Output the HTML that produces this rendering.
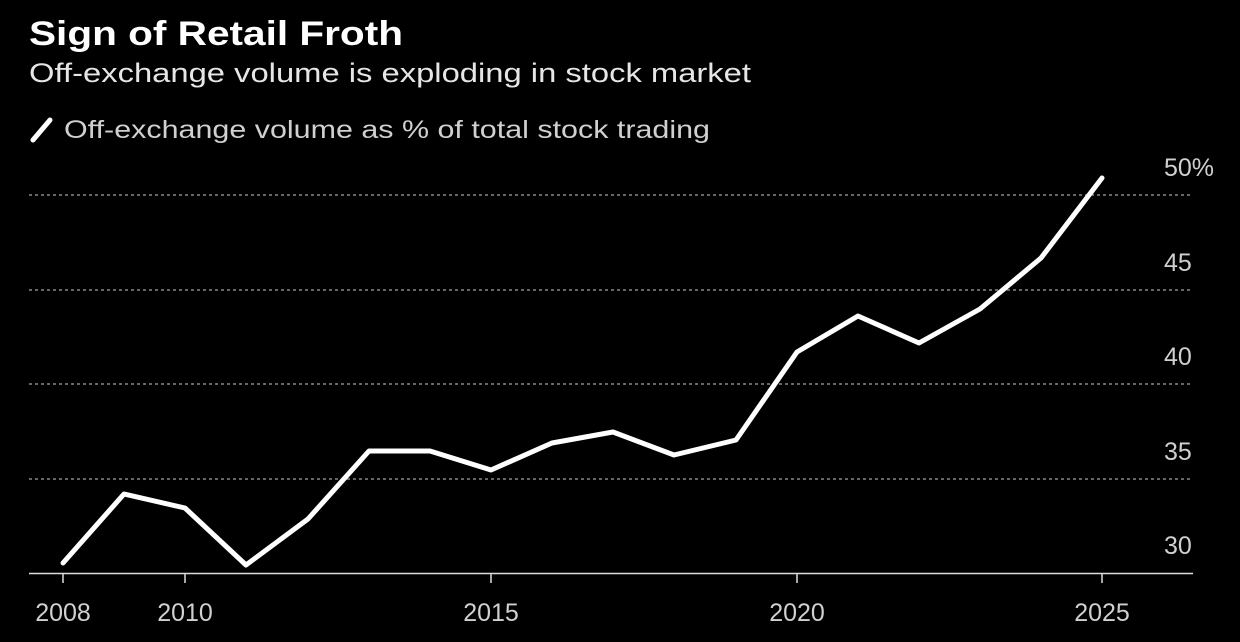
<!DOCTYPE html>
<html><head><meta charset="utf-8"><style>
html,body{margin:0;padding:0;background:#000;}
body{width:1240px;height:637px;overflow:hidden;font-family:"Liberation Sans",sans-serif;color:#fff;}
</style></head><body>
<svg width="1240" height="637" xmlns="http://www.w3.org/2000/svg">
<rect width="1240" height="637" fill="#000"/>
<text x="29" y="45" font-size="34" font-weight="bold" fill="#fff" textLength="374" lengthAdjust="spacingAndGlyphs">Sign of Retail Froth</text>
<text x="29" y="82" font-size="27" fill="#e6e6e6" textLength="722" lengthAdjust="spacingAndGlyphs">Off-exchange volume is exploding in stock market</text>
<line x1="33" y1="140" x2="50" y2="120" stroke="#fff" stroke-width="5" stroke-linecap="round"/>
<text x="64" y="138" font-size="25" fill="#d0d0d0" textLength="646" lengthAdjust="spacingAndGlyphs">Off-exchange volume as % of total stock trading</text>
<g stroke="#888" stroke-width="1.5" stroke-dasharray="3,3">
<line x1="29" y1="195" x2="1193" y2="195"/>
<line x1="29" y1="290" x2="1193" y2="290"/>
<line x1="29" y1="384" x2="1193" y2="384"/>
<line x1="29" y1="479" x2="1193" y2="479"/>
</g>
<line x1="29" y1="573.5" x2="1193" y2="573.5" stroke="#ddd" stroke-width="1.5"/>
<g stroke="#ddd" stroke-width="1.5">
<line x1="63" y1="573" x2="63" y2="583"/><line x1="185" y1="573" x2="185" y2="583"/>
<line x1="491" y1="573" x2="491" y2="583"/><line x1="797" y1="573" x2="797" y2="583"/>
<line x1="1102" y1="573" x2="1102" y2="583"/>
</g>
<g font-size="25" fill="#d0d0d0" text-anchor="middle">
<text x="63" y="621">2008</text><text x="185" y="621">2010</text><text x="491" y="621">2015</text>
<text x="797" y="621">2020</text><text x="1102" y="621">2025</text>
</g>
<g font-size="25" fill="#d0d0d0">
<text x="1164" y="176">50%</text><text x="1164" y="271">45</text><text x="1164" y="365">40</text>
<text x="1164" y="460">35</text><text x="1164" y="554">30</text>
</g>
<polyline fill="none" stroke="#fff" stroke-width="5" stroke-linejoin="round" stroke-linecap="round"
points="63,563 124,494 185,508 246,565 308,519 369,451 430,451 491,470 552,443 613,432 674,455 736,440 797,352 858,316 919,343 980,309 1041,258 1102,178"/>
</svg>
</body></html>
